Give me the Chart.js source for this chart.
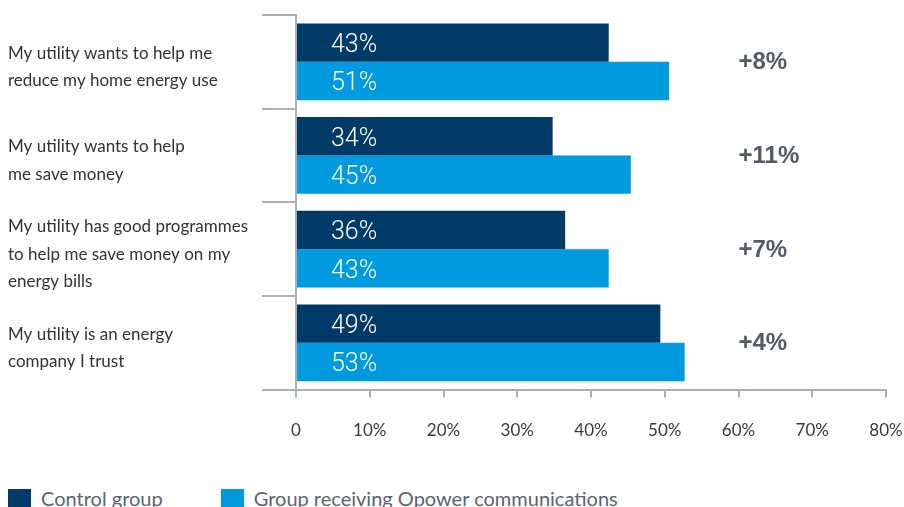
<!DOCTYPE html>
<html>
<head>
<meta charset="utf-8">
<script src="https://cdn.jsdelivr.net/npm/chart.js@4.4.0/dist/chart.umd.min.js"></script>
<style>
  html, body { margin: 0; padding: 0; background: #fff; overflow: hidden; }
  #wrap { position: relative; width: 904px; height: 507px; }
  #chart-box { position: absolute; left: 0; top: 0; width: 904px; height: 464px; }
  .legend { position: absolute; top: 486px; left: 8px; display: flex; font-family: Lato, sans-serif; font-size: 20px; color: #5d6470; }
  .legend-item { display: flex; align-items: flex-start; }
  .legend-item + .legend-item { margin-left: 58px; }
  .swatch { width: 23px; height: 24px; margin-top: 3px; margin-right: 10px; }
</style>
</head>
<body>
<div id="wrap">
  <div id="chart-box"><canvas id="chart"></canvas></div>
  <div class="legend" id="legend"></div>
</div>
<script>
const categories = [
  ['My utility wants to help me', 'reduce my home energy use'],
  ['My utility wants to help', 'me save money'],
  ['My utility has good programmes', 'to help me save money on my', 'energy bills'],
  ['My utility is an energy', 'company I trust']
];
const seriesNames = ['Control group', 'Group receiving Opower communications'];
const controlValues = [42.4, 34.8, 36.5, 49.4];
const opowerValues = [50.6, 45.4, 42.4, 52.7];
const controlLabels = ['43%', '34%', '36%', '49%'];
const opowerLabels = ['51%', '45%', '43%', '53%'];
const differences = ['+8%', '+11%', '+7%', '+4%'];
const xTicks = [0, 10, 20, 30, 40, 50, 60, 70, 80];

const DARK = '#003b68';
const LIGHT = '#009ade';
const AXIS = '#aab0b8';
const DIFF_AT = 60;

const valueLabels = {
  id: 'valueLabels',
  afterDatasetsDraw(chart) {
    const ctx = chart.ctx;
    const texts = [controlLabels, opowerLabels];
    ctx.save();
    ctx.font = '300 25px Roboto, sans-serif';
    ctx.fillStyle = '#ffffff';
    ctx.textAlign = 'left';
    ctx.textBaseline = 'middle';
    chart.data.datasets.forEach((ds, di) => {
      chart.getDatasetMeta(di).data.forEach((bar, i) => {
        ctx.fillText(texts[di][i], bar.base + 34, bar.y + 3);
      });
    });
    const x = chart.scales.x.getPixelForValue(DIFF_AT);
    ctx.font = 'bold 24px "Liberation Sans", Arial, sans-serif';
    ctx.fillStyle = '#545b65';
    differences.forEach((t, i) => {
      ctx.fillText(t, x, chart.scales.y.getPixelForValue(i) + 1);
    });
    ctx.restore();
  }
};

new Chart(document.getElementById('chart'), {
  type: 'bar',
  data: {
    labels: categories,
    datasets: [
      { label: seriesNames[0], data: controlValues, backgroundColor: DARK },
      { label: seriesNames[1], data: opowerValues, backgroundColor: LIGHT }
    ]
  },
  options: {
    indexAxis: 'y',
    responsive: true,
    maintainAspectRatio: false,
    animation: false,
    categoryPercentage: 0.82,
    barPercentage: 1,
    layout: { padding: { left: 8, top: 15, right: 0, bottom: 0 } },
    plugins: {
      legend: { display: false },
      tooltip: { enabled: false }
    },
    scales: {
      x: {
        min: 0,
        max: 80,
        afterBuildTicks(scale) { scale.ticks = xTicks.map(v => ({ value: v })); },
        afterFit(scale) { scale.paddingLeft = 0; scale.paddingRight = 18; },
        border: { color: AXIS, width: 2 },
        grid: { drawOnChartArea: false, drawTicks: true, tickLength: 8, color: AXIS, lineWidth: 2 },
        ticks: {
          padding: 23,
          maxRotation: 0,
          autoSkip: false,
          color: '#3a3a3a',
          font: { family: 'Lato, sans-serif', size: 17 },
          callback: v => v === 0 ? '0' : v + '%'
        }
      },
      y: {
        offset: true,
        afterFit(scale) { scale.width = 288; scale.paddingTop = 0; scale.paddingBottom = 0; },
        border: { color: AXIS, width: 2 },
        grid: { offset: true, drawOnChartArea: false, drawTicks: true, tickLength: 34, color: AXIS, lineWidth: 2 },
        ticks: {
          autoSkip: false,
          crossAlign: 'far',
          labelOffset: 5,
          color: '#333333',
          font: { family: 'Lato, sans-serif', size: 17, lineHeight: 1.6 }
        }
      }
    }
  },
  plugins: [valueLabels]
});

document.getElementById('legend').innerHTML = seriesNames.map((n, i) =>
  `<div class="legend-item"><span class="swatch" style="background:${i ? LIGHT : DARK}"></span><span>${n}</span></div>`
).join('');
</script>
</body>
</html>
